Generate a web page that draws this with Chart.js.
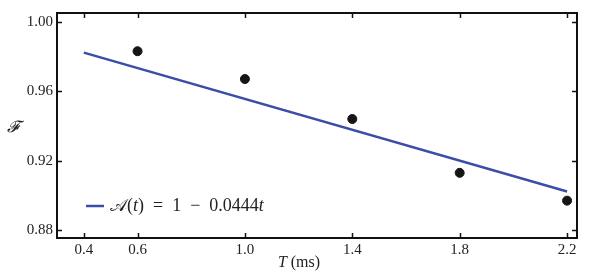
<!DOCTYPE html>
<html>
<head>
<meta charset="utf-8">
<script src="https://cdn.jsdelivr.net/npm/chart.js@4"></script>
<style>
  html, body { margin: 0; padding: 0; background: #fff; }
  #wrap { width: 597px; height: 279px; position: relative; }
</style>
</head>
<body>
<div id="wrap"><canvas id="myChart"></canvas></div>
<script>
// measured points
var tVals = [0.6, 1.0, 1.4, 1.8, 2.2];
var fVals = [0.983, 0.967, 0.944, 0.913, 0.897];
// fitted line, end points
var fitT = [0.4, 2.2];
var fitF = [0.9822, 0.9023];
var xTicks = [0.4, 0.6, 1.0, 1.4, 1.8, 2.2];
var yTicks = [0.88, 0.92, 0.96, 1.00];
// legend text in pieces: [text, italic?]
var legendParts = [['𝒜', false], ['(', false], ['t', true], [')  =  1  −  0.0444', false], ['t', true]];

var serif = '"Liberation Serif", "DejaVu Serif", serif';
var blue = '#3b4da6';

function drawParts(ctx, parts, x, y, size) {
  parts.forEach(function(p) {
    ctx.font = (p[1] ? 'italic ' : '') + size + 'px ' + serif;
    ctx.fillText(p[0], x, y);
    x += ctx.measureText(p[0]).width;
  });
}
function partsWidth(ctx, parts, size) {
  var w = 0;
  parts.forEach(function(p) {
    ctx.font = (p[1] ? 'italic ' : '') + size + 'px ' + serif;
    w += ctx.measureText(p[0]).width;
  });
  return w;
}

// inward ticks on all four sides, frame, titles and legend
var framePlugin = {
  id: 'frame',
  afterDraw: function(chart) {
    var ctx = chart.ctx, a = chart.chartArea;
    var sx = chart.scales.x, sy = chart.scales.y;
    ctx.save();
    ctx.strokeStyle = '#111';
    ctx.lineWidth = 2;
    ctx.strokeRect(a.left, a.top, a.right - a.left, a.bottom - a.top);
    ctx.lineWidth = 1.5;
    var len = 5;
    xTicks.forEach(function(v) {
      var px = Math.round(sx.getPixelForValue(v)) + 0.5;
      ctx.beginPath();
      ctx.moveTo(px, a.bottom); ctx.lineTo(px, a.bottom - len);
      ctx.moveTo(px, a.top); ctx.lineTo(px, a.top + len);
      ctx.stroke();
    });
    yTicks.forEach(function(v) {
      var py = Math.round(sy.getPixelForValue(v)) + 0.5;
      ctx.beginPath();
      ctx.moveTo(a.left, py); ctx.lineTo(a.left + len, py);
      ctx.moveTo(a.right, py); ctx.lineTo(a.right - len, py);
      ctx.stroke();
    });

    // axis titles
    ctx.fillStyle = '#222';
    ctx.textBaseline = 'middle';
    ctx.textAlign = 'left';
    ctx.font = 'italic 16px ' + serif;
    ctx.fillText('𝓕', 7, 128);
    var xt = [['T', true], [' (ms)', false]];
    var w = partsWidth(ctx, xt, 16);
    drawParts(ctx, xt, 299 - w / 2, 263, 16);

    // legend
    var ly = 206;
    ctx.strokeStyle = blue;
    ctx.lineWidth = 2.5;
    ctx.beginPath();
    ctx.moveTo(86, ly); ctx.lineTo(104, ly);
    ctx.stroke();
    ctx.fillStyle = '#222';
    drawParts(ctx, legendParts, 110, ly, 18);
    ctx.restore();
  }
};

var ctx = document.getElementById('myChart').getContext('2d');
var myChart = new Chart(ctx, {
  type: 'scatter',
  data: {
    datasets: [{
      label: 'fit',
      data: fitT.map(function(t, i) { return {x: t, y: fitF[i]}; }),
      showLine: true,
      borderColor: blue,
      borderWidth: 2.5,
      pointRadius: 0,
      order: 2
    }, {
      label: 'data',
      data: tVals.map(function(t, i) { return {x: t, y: fVals[i]}; }),
      backgroundColor: '#151515',
      borderColor: '#151515',
      pointRadius: 4.5,
      order: 1
    }]
  },
  options: {
    responsive: true,
    maintainAspectRatio: false,
    animation: false,
    layout: { padding: { left: 0, right: 20, top: 8, bottom: 0 } },
    plugins: { legend: { display: false }, tooltip: { enabled: false } },
    scales: {
      x: {
        type: 'linear',
        min: 0.3, max: 2.237,
        grid: { display: false, drawTicks: false },
        border: { display: false },
        afterBuildTicks: function(s) { s.ticks = xTicks.map(function(v) { return {value: v}; }); },
        afterFit: function(s) { s.height = 41; },
        ticks: {
          color: '#222', padding: 3, maxRotation: 0,
          font: { family: serif, size: 15 },
          callback: function(v) { return v.toFixed(1); }
        }
      },
      y: {
        min: 0.8755, max: 1.005,
        grid: { display: false, drawTicks: false },
        border: { display: false },
        afterBuildTicks: function(s) { s.ticks = yTicks.map(function(v) { return {value: v}; }); },
        afterFit: function(s) { s.width = 57; },
        ticks: {
          color: '#222', padding: 4,
          font: { family: serif, size: 15 },
          callback: function(v) { return v.toFixed(2); }
        }
      }
    }
  },
  plugins: [framePlugin]
});
</script>
</body>
</html>
